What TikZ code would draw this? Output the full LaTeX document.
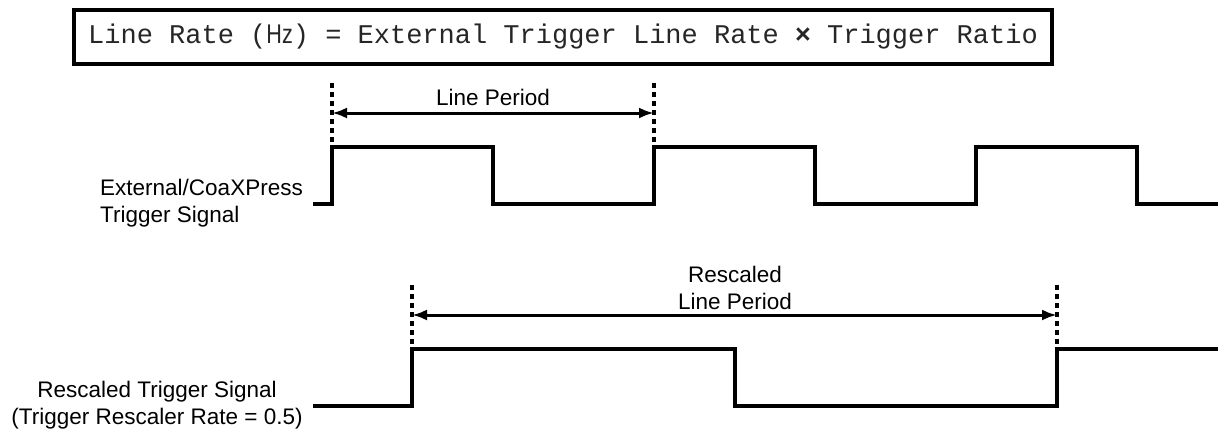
\documentclass[tikz,border=0pt]{standalone}
\usepackage{fontspec}
\setmainfont{Liberation Sans}
\setsansfont{Liberation Sans}
\setmonofont{Liberation Mono}
\usetikzlibrary{arrows.meta,positioning}

\begin{document}
\begin{tikzpicture}[x=1pt, y=-1pt,
    wave/.style={line width=4.5pt, line join=miter},
    guide/.style={line width=3.5pt, dash pattern=on 4.5pt off 4.5pt},
    span/.style={{Latex[length=15pt,width=11pt]}-{Latex[length=15pt,width=11pt]}, line width=3pt},
    label/.style={font=\fontsize{22.5}{27}\selectfont, inner sep=0pt},
    formula/.style={draw, line width=3.5pt, minimum width=978pt, minimum height=54pt, inner sep=0pt,
      font=\fontsize{27}{30}\selectfont\ttfamily, text=black!85}
  ]
  \useasboundingbox (0,0) rectangle (1222,432);

  \node[formula] (eq) at (563,37)
    {Line Rate (\scalebox{0.8}[1]{\sffamily Hz}) = External Trigger Line Rate {\sffamily\bfseries\char"00D7} Trigger Ratio};

  % external trigger
  \node[label, align=left, anchor=west] (extlbl) at (100,203.5) {External/CoaXPress\\Trigger Signal};
  \draw[wave] (313,204) -| (332,147) -| (493,204) -| (654,147) -| (815,204) -| (976,147) -| (1137,204) -- (1218,204);
  \coordinate (ea) at (332,147);
  \coordinate (eb) at (654,147);
  \coordinate (eatop) at (332,83);
  \coordinate (ebtop) at (654,83);
  \coordinate (pa) at (332,113);
  \coordinate (pb) at (654,113);
  \draw[guide] (eatop) -- (ea);
  \draw[guide] (ebtop) -- (eb);
  \draw[span] (pa) -- (pb);
  \node[label] (per) at (493,97) {Line Period};

  % rescaled trigger
  \node[label, align=center] (reslbl) at (157,405) {Rescaled Trigger Signal\\(Trigger Rescaler Rate = 0.5)};
  \draw[wave] (313,406) -| (412,349) -| (735,406) -| (1057,349) -- (1218,349);
  \coordinate (ra) at (412,349);
  \coordinate (rb) at (1057,349);
  \coordinate (ratop) at (412,285);
  \coordinate (rbtop) at (1057,285);
  \coordinate (qa) at (412,315);
  \coordinate (qb) at (1057,315);
  \draw[guide] (ratop) -- (ra);
  \draw[guide] (rbtop) -- (rb);
  \draw[span] (qa) -- (qb);
  \node[label, align=center] (resper) at (735,288) {Rescaled\\Line Period};
\end{tikzpicture}
\end{document}
